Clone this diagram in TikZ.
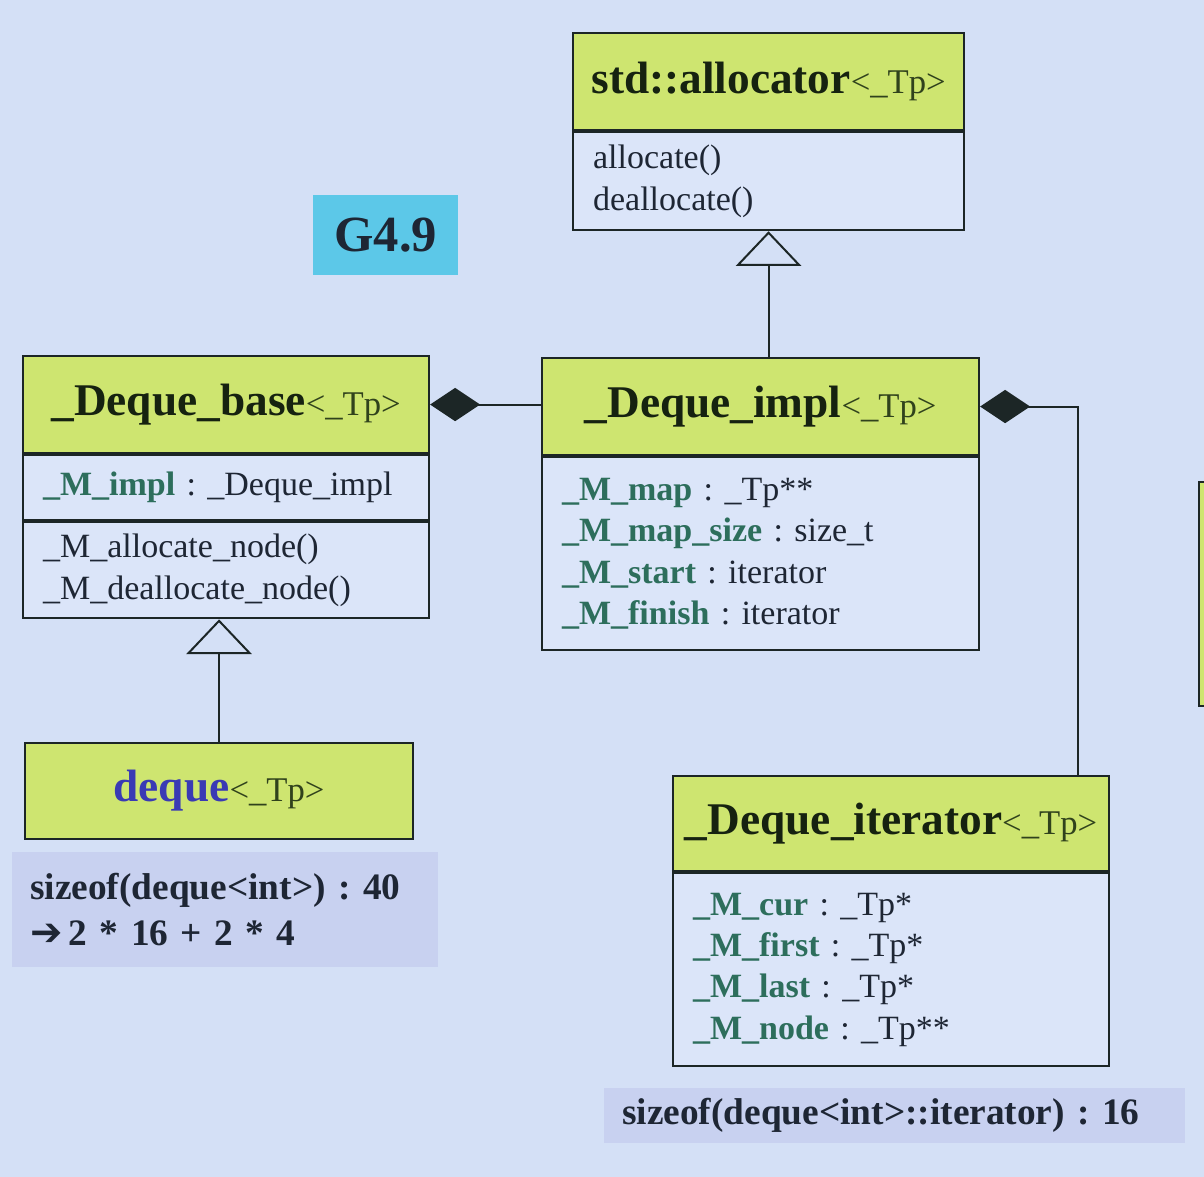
\documentclass[tikz,border=0pt]{standalone}
\usepackage{fontspec}
\setmainfont{Liberation Serif}
\newfontfamily\symfont{DejaVu Sans}
\usetikzlibrary{arrows.meta,calc}
\definecolor{bgc}{RGB}{212,224,246}
\definecolor{bodyc}{RGB}{219,229,249}
\definecolor{hdrc}{RGB}{206,229,112}
\definecolor{bordc}{RGB}{28,38,38}
\definecolor{attc}{RGB}{45,110,92}
\definecolor{txtc}{RGB}{30,38,52}
\definecolor{ttlc}{RGB}{22,34,16}
\definecolor{tpc}{RGB}{48,66,28}
\definecolor{dqc}{RGB}{58,58,180}
\definecolor{notec}{RGB}{200,209,240}
\definecolor{gcol}{RGB}{92,200,232}
\tikzset{
  hdr/.style={draw=bordc, fill=hdrc, line width=1.6pt, inner sep=0pt, anchor=north west, align=center, text=ttlc},
  body/.style={draw=bordc, fill=bodyc, line width=1.6pt, inner xsep=15pt, inner ysep=0pt, anchor=north west, align=left, text=txtc, font=\fontsize{25.5}{31}\selectfont},
  note/.style={fill=notec, inner xsep=13.5pt, inner ysep=0pt, anchor=north west, align=left, text=txtc, font=\fontsize{28}{34.5}\selectfont\bfseries},
  inh/.style={line width=1.5pt, draw=bordc, {Triangle[open, length=26pt, width=49pt, line width=1.5pt]}-},
  comp/.style={line width=1.5pt, draw=bordc, {Diamond[length=37.5pt, width=25pt, fill=bordc]}-},
}
\newcommand{\ttl}[1]{{\fontsize{34}{38}\selectfont\bfseries #1}}
\newcommand{\tpar}{{\fontsize{26}{30}\selectfont\color{tpc}<\_Tp>}}
\newcommand{\att}[1]{{\bfseries\color{attc}#1}}
\begin{document}
\frenchspacing
\begin{tikzpicture}[x=0.75pt, y=-0.75pt]
\clip (0,0) rectangle (1204,1177);
\useasboundingbox (0,0) rectangle (1204,1177);
\fill[bgc] (0,0) rectangle (1204,1177);

% std::allocator
\node[hdr, minimum width=293.25pt, minimum height=72.75pt] (allocH) at (572,32) {\ttl{std::allocator}\tpar};
\node[body, text width=263.25pt, minimum height=73.5pt] (allocB) at (allocH.south west) {allocate()\\deallocate()};

% G4.9
\node[fill=gcol, minimum width=108.75pt, minimum height=60pt, inner sep=0pt, anchor=north west, text=txtc, font=\fontsize{38}{40}\selectfont\bfseries] (gver) at (313,195) {G4.9};

% _Deque_base
\node[hdr, minimum width=304.5pt, minimum height=72.75pt] (baseH) at (22,355) {\ttl{\_Deque\_base}\tpar};
\node[body, text width=274.5pt, minimum height=48.75pt] (baseA) at (baseH.south west) {\att{\_M\_impl} : \_Deque\_impl};
\node[body, text width=274.5pt, minimum height=72pt] (baseM) at (baseA.south west) {\_M\_allocate\_node()\\\_M\_deallocate\_node()};

% _Deque_impl
\node[hdr, minimum width=327.75pt, minimum height=72.75pt] (implH) at (541,357) {\ttl{\_Deque\_impl}\tpar};
\node[body, text width=297.75pt, minimum height=144.75pt] (implB) at (implH.south west) {\att{\_M\_map} : \_Tp**\\\att{\_M\_map\_size} : size\_t\\\att{\_M\_start} : iterator\\\att{\_M\_finish} : iterator};

% deque
\node[hdr, minimum width=291pt, minimum height=72pt] (dequeH) at (24,742) {{\fontsize{34}{38}\selectfont\bfseries\color{dqc}deque}\tpar};

% note 1
\node[note, minimum width=319.5pt, minimum height=86.25pt, text width=292.5pt] (note1) at (12,852) {sizeof(deque<int>) : 40\\{\symfont\fontsize{29}{34}\selectfont ➔}\,2 * 16 + 2 * 4};

% _Deque_iterator
\node[hdr, minimum width=327pt, minimum height=71.25pt] (iterH) at (672,775) {\ttl{\_Deque\_iterator}\tpar};
\node[body, text width=297pt, minimum height=144.75pt] (iterB) at (iterH.south west) {\att{\_M\_cur} : \_Tp*\\\att{\_M\_first} : \_Tp*\\\att{\_M\_last} : \_Tp*\\\att{\_M\_node} : \_Tp**};

% note 2
\node[note, minimum width=435.75pt, minimum height=41.25pt, text width=408.75pt] (note2) at (604,1088) {sizeof(deque<int>::iterator) : 16};

% partial box at right edge
\draw[draw=bordc, fill=hdrc, line width=1.6pt] (1199,482) rectangle (1240,706);

% connectors
\draw[inh] (allocB.south) -- (allocB.south |- implH.north);
\draw[inh] (dequeH.north |- baseM.south) -- (dequeH.north);
\draw[comp] (baseH.east) -- (implH.west |- baseH.east);
\coordinate (iterTop) at ([xshift=-24pt]iterH.north east);
\draw[comp] (implH.east) -| (iterTop);
\end{tikzpicture}
\end{document}
